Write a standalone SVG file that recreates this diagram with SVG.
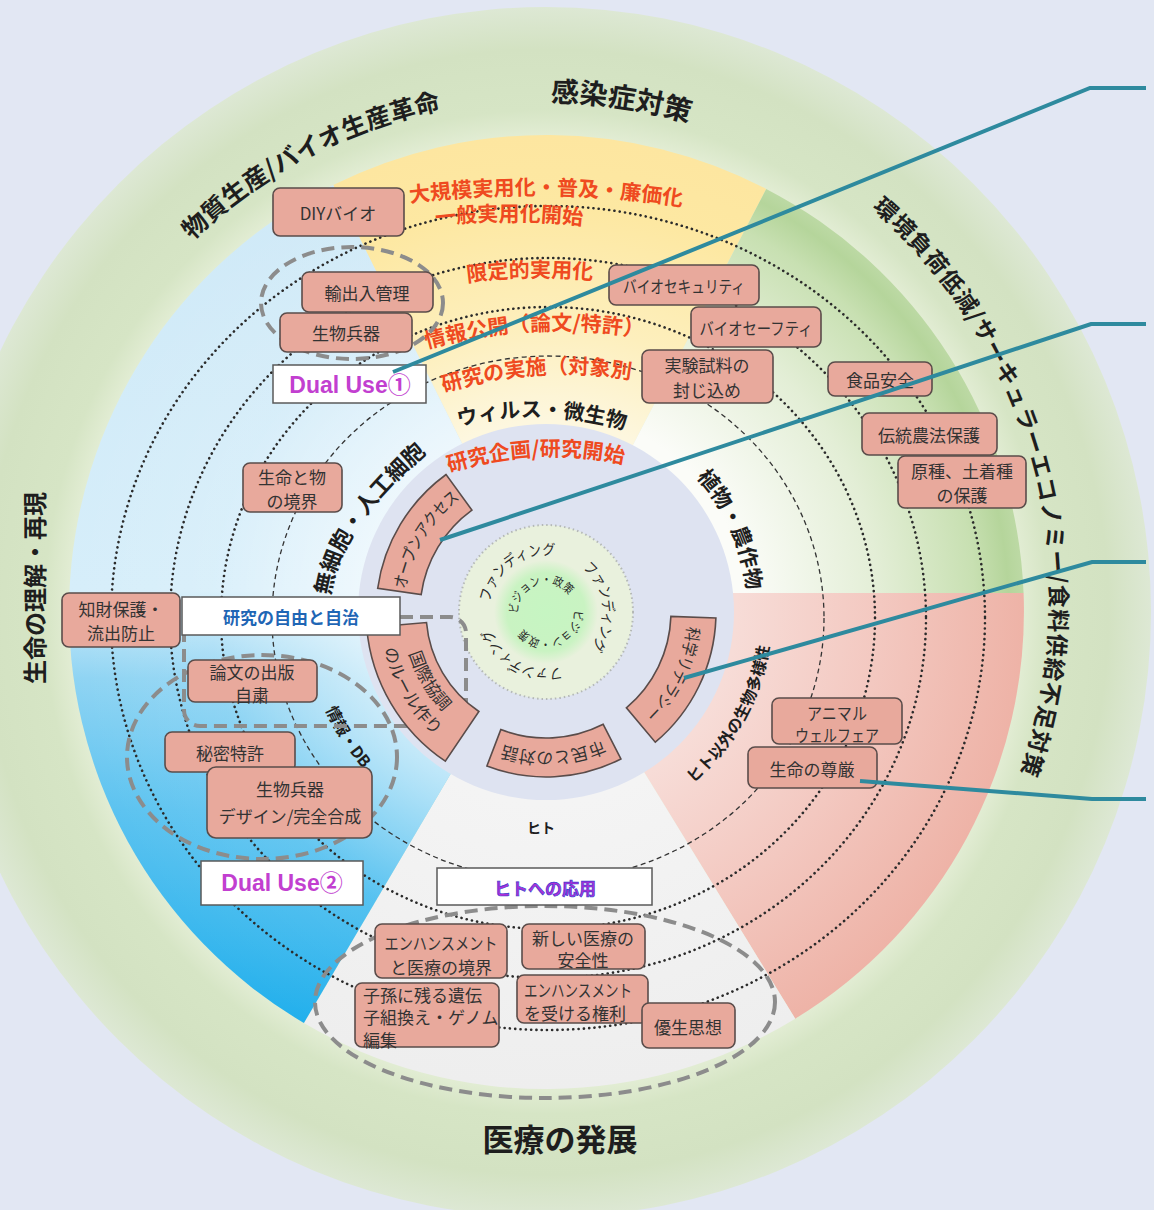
<svg xmlns="http://www.w3.org/2000/svg" width="1154" height="1210" viewBox="0 0 1154 1210">
<defs>
<style>
.box{fill:#e8a99c;stroke:#5a4c4a;stroke-width:1.6}
.wbox{fill:#ffffff;stroke:#5a5a5a;stroke-width:1.5}
.bt{font-family:"Noto Sans CJK JP","Noto Sans CJK SC",sans-serif;font-size:17px;fill:#333;text-anchor:middle;dominant-baseline:central}
.bl{text-anchor:start}
.dot{fill:none;stroke:#2b2b2b;stroke-width:2.6;stroke-dasharray:0.1 5.2;stroke-linecap:round}
.dash{fill:none;stroke:#333;stroke-width:1.3;stroke-dasharray:5 3.5}
.gdash{fill:none;stroke:#8c8c8c;stroke-width:4;stroke-dasharray:13 7}
.red{font-family:"Noto Sans CJK JP",sans-serif;font-weight:bold;fill:#ef4a20;font-size:21px}
.blk{font-family:"Noto Sans CJK JP",sans-serif;font-weight:bold;fill:#1e1e1e}
.arc{font-family:"Noto Sans CJK JP",sans-serif;font-size:17px;fill:#333}
.core{font-family:"Noto Sans CJK JP",sans-serif;fill:#2a2a2a}
.conn{fill:none;stroke:#2e8a9e;stroke-width:4}
.du{font-family:"Liberation Sans","Noto Sans CJK JP",sans-serif;font-weight:bold;font-size:23px;fill:#c23fd0;text-anchor:middle;dominant-baseline:central}
</style>
<radialGradient id="gRing" gradientUnits="userSpaceOnUse" cx="546" cy="612" r="605">
<stop offset="0.78" stop-color="#e4eed6"/>
<stop offset="0.83" stop-color="#d6e5c5"/>
<stop offset="0.93" stop-color="#d3e2c2"/>
<stop offset="1" stop-color="#dde8d4"/>
</radialGradient>
<radialGradient id="gYel" gradientUnits="userSpaceOnUse" cx="546" cy="612" r="477">
<stop offset="0.4" stop-color="#fdf7df"/>
<stop offset="0.6" stop-color="#fdefbd"/>
<stop offset="0.85" stop-color="#fde8a2"/>
<stop offset="1" stop-color="#fde6a0"/>
</radialGradient>
<radialGradient id="gGrn" gradientUnits="userSpaceOnUse" cx="546" cy="612" r="477">
<stop offset="0.42" stop-color="#fbfcf8"/>
<stop offset="0.7" stop-color="#e3eed6"/>
<stop offset="0.9" stop-color="#c8e0b2"/>
<stop offset="0.97" stop-color="#b5d59b"/>
<stop offset="1" stop-color="#bcd9a4"/>
</radialGradient>
<radialGradient id="gPnk" gradientUnits="userSpaceOnUse" cx="546" cy="612" r="477">
<stop offset="0.4" stop-color="#f7dcd7"/>
<stop offset="0.7" stop-color="#f3c8c0"/>
<stop offset="1" stop-color="#eeb3a7"/>
</radialGradient>
<radialGradient id="gGry" gradientUnits="userSpaceOnUse" cx="546" cy="612" r="477">
<stop offset="0.4" stop-color="#f4f4f4"/>
<stop offset="1" stop-color="#eeeeee"/>
</radialGradient>
<linearGradient id="gBlu" gradientUnits="userSpaceOnUse" x1="0" y1="150" x2="0" y2="1030">
<stop offset="0" stop-color="#cfe9f7"/>
<stop offset="0.5" stop-color="#d6eefa"/>
<stop offset="0.6" stop-color="#8fd4f3"/>
<stop offset="0.75" stop-color="#5cc3f0"/>
<stop offset="1" stop-color="#20afec"/>
</linearGradient>
<radialGradient id="gBluHi" gradientUnits="userSpaceOnUse" cx="546" cy="612" r="477">
<stop offset="0.38" stop-color="#ffffff" stop-opacity="0.6"/>
<stop offset="0.7" stop-color="#ffffff" stop-opacity="0.1"/>
<stop offset="1" stop-color="#ffffff" stop-opacity="0"/>
</radialGradient>
<radialGradient id="gCore" gradientUnits="userSpaceOnUse" cx="546" cy="612" r="52">
<stop offset="0" stop-color="#c6f5c2"/>
<stop offset="0.75" stop-color="#c9f3c2"/>
<stop offset="1" stop-color="#e9f1dd"/>
</radialGradient>
<path id="pT1" d="M101.7,355.5 A513,513 0 0 1 587.1,100.6"/>
<path id="pT2" d="M371.6,132.8 A510,510 0 0 1 851.5,203.6"/>
<path id="pT3" d="M828.3,174 A520,520 0 0 1 999.4,823.9"/>
<path id="pR1" d="M400,204 Q546,184 692,208"/>
<path id="pR2" d="M420,227 Q509,215 598,227"/>
<path id="pR3" d="M455,284 Q530,272 605,281"/>
<path id="pR4" d="M415,352 Q535,316 655,340"/>
<path id="pR5" d="M430,397 Q538,360 645,382"/>
<path id="pR6" d="M433,478 Q537,440 640,468"/>
<path id="pS1" d="M455,427 Q541,405 628,431"/>
<path id="pS2" d="M330,600 Q336,531 430,450"/>
<path id="pS3" d="M661.6,446.3 A202,202 0 0 1 746.5,636.3"/>
<path id="pS4" d="M678.8,794.8 A226,226 0 0 0 771.5,627.8"/>
<path id="pS5" d="M315.8,683.3 A241,241 0 0 0 382.3,788.8"/>
<path id="pI1" d="M404,612 A142,142 0 0 1 479.3,486.6"/>
<path id="pI2" d="M687.5,599.6 A142,142 0 0 1 623.3,731.1"/>
<path id="pI3" d="M622.2,729.4 A140,140 0 0 1 482.4,736.7"/>
<path id="pI4a" d="M403.5,599.5 A143,143 0 0 0 487.8,742.6"/>
<path id="pI4b" d="M380.6,597.5 A166,166 0 0 0 478.5,763.6"/>
<path id="pF1" d="M489.3,617.5 A57,57 0 0 1 569.6,560.1"/>
<path id="pF2" d="M569.2,559.9 A57,57 0 0 1 579.5,658.1"/>
<path id="pF3" d="M575.4,660.9 A57,57 0 0 1 489.0,613.0"/>
<path id="pV1" d="M521.8,626 A28,28 0 1 1 573.6,607.1"/>
<path id="pV2" d="M570.2,598 A28,28 0 1 1 518.4,616.9"/>
</defs>

<rect x="0" y="0" width="1154" height="1210" fill="#e2e7f3"/>

<g id="background">
<circle cx="546" cy="612" r="605" fill="url(#gRing)"/>
<path d="M546,612 L333.2,185.1 A477,477 0 0 1 766.2,188.9 Z" fill="url(#gYel)"/>
<path d="M546,612 L766.2,188.9 A477,477 0 0 1 1023.6,593 L546,593 Z" fill="url(#gGrn)"/>
<path d="M546,593 L1023.6,593 A477,477 0 0 1 795.2,1018.7 L546,612 Z" fill="url(#gPnk)"/>
<path d="M546,612 L795.2,1018.7 A477,477 0 0 1 303.9,1023 Z" fill="url(#gGry)"/>
<path d="M546,612 L303.9,1023 A477,477 0 0 1 333.2,185.1 Z" fill="url(#gBlu)"/>
<path d="M546,612 L303.9,1023 A477,477 0 0 1 333.2,185.1 Z" fill="url(#gBluHi)"/>
</g>

<g id="rings">
<ellipse class="dash" cx="548" cy="618" rx="276" ry="262"/>
<ellipse class="dot" cx="548" cy="618" rx="327" ry="311"/>
<ellipse class="dot" cx="548" cy="618" rx="378" ry="360"/>
<ellipse class="dot" cx="548" cy="618" rx="437" ry="412"/>
</g>

<g id="core">
<circle cx="546" cy="612" r="188" fill="#dee3f1"/>
<circle cx="546" cy="612" r="87" fill="#e9f1dd" stroke="#b4b8b6" stroke-width="2" stroke-dasharray="1.5 3"/>
<circle cx="546" cy="612" r="52" fill="url(#gCore)"/>
<text class="core" font-size="15"><textPath href="#pF1" startOffset="50%" text-anchor="middle" textLength="88" lengthAdjust="spacingAndGlyphs">ファンディング</textPath></text>
<text class="core" font-size="15"><textPath href="#pF2" startOffset="50%" text-anchor="middle" textLength="88" lengthAdjust="spacingAndGlyphs">ファンディング</textPath></text>
<text class="core" font-size="15"><textPath href="#pF3" startOffset="50%" text-anchor="middle" textLength="88" lengthAdjust="spacingAndGlyphs">ファンディング</textPath></text>
<text class="core" font-size="12"><textPath href="#pV1" startOffset="50%" text-anchor="middle" textLength="72" lengthAdjust="spacingAndGlyphs">ビジョン・政策</textPath></text>
<text class="core" font-size="12"><textPath href="#pV2" startOffset="50%" text-anchor="middle" textLength="72" lengthAdjust="spacingAndGlyphs">ビジョン・政策</textPath></text>
</g>

<g id="outer-labels">
<text class="blk" font-size="25"><textPath href="#pT1" startOffset="50%" text-anchor="middle">物質生産/バイオ生産革命</textPath></text>
<text class="blk" font-size="28"><textPath href="#pT2" startOffset="50%" text-anchor="middle">感染症対策</textPath></text>
<text class="blk" font-size="23"><textPath href="#pT3" startOffset="50%" text-anchor="middle" textLength="620" lengthAdjust="spacing">環境負荷低減/サーキュラーエコノミー/食料供給不足対策</textPath></text>
<text class="blk" font-size="24" x="33" y="588" text-anchor="middle" dominant-baseline="central" transform="rotate(-90 33 588)">生命の理解・再現</text>
<text class="blk" font-size="31" x="560" y="1137" text-anchor="middle" dominant-baseline="central">医療の発展</text>
</g>

<g id="stage-labels">
<text class="red"><textPath href="#pR1" startOffset="50%" text-anchor="middle">大規模実用化・普及・廉価化</textPath></text>
<text class="red"><textPath href="#pR2" startOffset="50%" text-anchor="middle">一般実用化開始</textPath></text>
<text class="red" font-size="22"><textPath href="#pR3" startOffset="50%" text-anchor="middle">限定的実用化</textPath></text>
<text class="red"><textPath href="#pR4" startOffset="50%" text-anchor="middle">情報公開（論文/特許）</textPath></text>
<text class="red" font-size="22"><textPath href="#pR5" startOffset="50%" text-anchor="middle">研究の実施（対象別</textPath></text>
<text class="red"><textPath href="#pR6" startOffset="50%" text-anchor="middle">研究企画/研究開始</textPath></text>
</g>

<g id="sector-labels">
<text class="blk" font-size="21"><textPath href="#pS1" startOffset="50%" text-anchor="middle">ウィルス・微生物</textPath></text>
<text class="blk" font-size="22"><textPath href="#pS2" startOffset="50%" text-anchor="middle">無細胞・人工細胞</textPath></text>
<text class="blk" font-size="21"><textPath href="#pS3" startOffset="50%" text-anchor="middle">植物・農作物</textPath></text>
<text class="blk" font-size="16"><textPath href="#pS4" startOffset="50%" text-anchor="middle">ヒト以外の生物多様性</textPath></text>
<text class="blk" font-size="16"><textPath href="#pS5" startOffset="50%" text-anchor="middle">情報・DB</textPath></text>
<text class="blk" font-size="14" x="541" y="827" text-anchor="middle" dominant-baseline="central">ヒト</text>
</g>

<g id="groupings">
<ellipse class="gdash" cx="352" cy="303" rx="91" ry="56"/>
<ellipse class="gdash" cx="262" cy="757" rx="135" ry="102"/>
<rect class="gdash" x="184" y="617" width="282" height="109" rx="16"/>
<ellipse class="gdash" cx="545" cy="1002" rx="230" ry="96"/>
</g>

<g id="inner-open-access">
<path class="box" d="M377.7,588.3 A170,170 0 0 1 446.1,474.5 L471.9,510.1 A126,126 0 0 0 421.2,594.5 Z"/>
<text class="arc"><textPath href="#pI1" startOffset="50%" text-anchor="middle" textLength="108" lengthAdjust="spacingAndGlyphs">オープンアクセス</textPath></text>
</g>
<g id="inner-science-literacy">
<path class="box" d="M715.9,617.9 A170,170 0 0 1 655.3,742.2 L626.4,707.8 A125,125 0 0 0 670.9,616.4 Z"/>
<text class="arc"><textPath href="#pI2" startOffset="50%" text-anchor="middle" textLength="100" lengthAdjust="spacingAndGlyphs">科学リテラシー</textPath></text>
</g>
<g id="inner-citizen-dialogue">
<path class="box" d="M620.9,759 A165,165 0 0 1 486.9,766 L500.8,729.6 A126,126 0 0 0 603.2,724.3 Z"/>
<text class="arc"><textPath href="#pI3" startOffset="50%" text-anchor="middle">市民との対話</textPath></text>
</g>
<g id="inner-international">
<path class="box" d="M445.3,761.2 A180,180 0 0 1 366.7,627.7 L426.5,622.5 A120,120 0 0 0 478.9,711.5 Z"/>
<text class="arc"><textPath href="#pI4a" startOffset="50%" text-anchor="middle">国際協調</textPath></text>
<text class="arc"><textPath href="#pI4b" startOffset="50%" text-anchor="middle">のルール作り</textPath></text>
</g>

<g id="n-diy"><rect class="box" x="273" y="188" width="131" height="48" rx="7"/><text class="bt" x="338" y="212">DIYバイオ</text></g>
<g id="n-export"><rect class="box" x="302" y="272" width="131" height="40" rx="7"/><text class="bt" x="367" y="292" font-size="18">輸出入管理</text></g>
<g id="n-bioweapon1"><rect class="box" x="280" y="313" width="132" height="39" rx="7"/><text class="bt" x="346" y="332.5" font-size="18">生物兵器</text></g>
<g id="n-dualuse1"><rect class="wbox" x="273" y="365" width="153" height="38"/><text class="du" x="350" y="385">Dual Use①</text></g>
<g id="n-biosecurity"><rect class="box" x="609" y="265" width="150" height="40" rx="7"/><text class="bt" x="684" y="285" textLength="122" lengthAdjust="spacingAndGlyphs">バイオセキュリティ</text></g>
<g id="n-biosafety"><rect class="box" x="691" y="307" width="130" height="40" rx="7"/><text class="bt" x="756" y="327" textLength="113" lengthAdjust="spacingAndGlyphs">バイオセーフティ</text></g>
<g id="n-containment"><rect class="box" x="642" y="350" width="131" height="53" rx="7"/><text class="bt" x="707" y="364" font-size="18">実験試料の</text><text class="bt" x="707" y="389" font-size="18">封じ込め</text></g>
<g id="n-foodsafety"><rect class="box" x="828" y="362" width="104" height="34" rx="7"/><text class="bt" x="880" y="379" font-size="18">食品安全</text></g>
<g id="n-traditional"><rect class="box" x="862" y="413" width="135" height="42" rx="7"/><text class="bt" x="929" y="434" font-size="18">伝統農法保護</text></g>
<g id="n-native"><rect class="box" x="898" y="456" width="128" height="52" rx="7"/><text class="bt" x="962" y="470" font-size="18">原種、土着種</text><text class="bt" x="962" y="494" font-size="18">の保護</text></g>
<g id="n-lifeboundary"><rect class="box" x="243" y="463" width="99" height="49" rx="7"/><text class="bt" x="292" y="476">生命と物</text><text class="bt" x="292" y="500">の境界</text></g>
<g id="n-ip"><rect class="box" x="62" y="593" width="118" height="54" rx="7"/><text class="bt" x="121" y="608">知財保護・</text><text class="bt" x="121" y="632">流出防止</text></g>
<g id="n-freedom"><rect class="wbox" x="182" y="597" width="218" height="38"/><text class="bt" x="291" y="616" font-size="21" font-weight="bold" style="fill:#1f66b5">研究の自由と自治</text></g>
<g id="n-selfrestraint"><rect class="box" x="188" y="660" width="129" height="42" rx="7"/><text class="bt" x="252" y="671">論文の出版</text><text class="bt" x="252" y="694">自粛</text></g>
<g id="n-secretpatent"><rect class="box" x="165" y="732" width="130" height="40" rx="7"/><text class="bt" x="230" y="752" font-size="18">秘密特許</text></g>
<g id="n-bioweapon2"><rect class="box" x="207" y="767" width="165" height="71" rx="9"/><text class="bt" x="290" y="788">生物兵器</text><text class="bt" x="290" y="815">デザイン/完全合成</text></g>
<g id="n-dualuse2"><rect class="wbox" x="201" y="861" width="162" height="44"/><text class="du" x="282" y="883">Dual Use②</text></g>
<g id="n-human-app"><rect class="wbox" x="437" y="868" width="215" height="37"/><text class="bt" x="545" y="887" font-size="21" font-weight="bold" style="fill:#b02fd6;stroke:#3c3fd2;stroke-width:0.7">ヒトへの応用</text></g>
<g id="n-enh-boundary"><rect class="box" x="375" y="924" width="132" height="54" rx="7"/><text class="bt" x="441" y="942" textLength="113" lengthAdjust="spacingAndGlyphs">エンハンスメント</text><text class="bt" x="441" y="966">と医療の境界</text></g>
<g id="n-newmed"><rect class="box" x="522" y="924" width="123" height="45" rx="7"/><text class="bt" x="583" y="937">新しい医療の</text><text class="bt" x="583" y="959">安全性</text></g>
<g id="n-germline"><rect class="box" x="355" y="983" width="144" height="64" rx="7"/><text class="bt bl" x="363" y="994">子孫に残る遺伝</text><text class="bt bl" x="363" y="1016">子組換え・ゲノム</text><text class="bt bl" x="363" y="1039">編集</text></g>
<g id="n-enh-right"><rect class="box" x="517" y="975" width="131" height="48" rx="7"/><text class="bt bl" x="524" y="989" textLength="108" lengthAdjust="spacingAndGlyphs">エンハンスメント</text><text class="bt bl" x="524" y="1012">を受ける権利</text></g>
<g id="n-eugenics"><rect class="box" x="642" y="1003" width="93" height="45" rx="7"/><text class="bt" x="688" y="1026" font-size="18">優生思想</text></g>
<g id="n-animal"><rect class="box" x="772" y="698" width="130" height="46" rx="7"/><text class="bt" x="837" y="712" textLength="60" lengthAdjust="spacingAndGlyphs">アニマル</text><text class="bt" x="837" y="734" textLength="84" lengthAdjust="spacingAndGlyphs">ウェルフェア</text></g>
<g id="n-dignity"><rect class="box" x="748" y="747" width="129" height="41" rx="7"/><text class="bt" x="812" y="768" font-size="18">生命の尊厳</text></g>

<g id="connectors">
<polyline class="conn" points="393,372 1090,88 1146,88"/>
<polyline class="conn" points="440,540 1091,324 1146,324"/>
<polyline class="conn" points="684,678 1092,562 1146,562"/>
<polyline class="conn" points="860,781 1092,799 1146,799"/>
</g>
</svg>
